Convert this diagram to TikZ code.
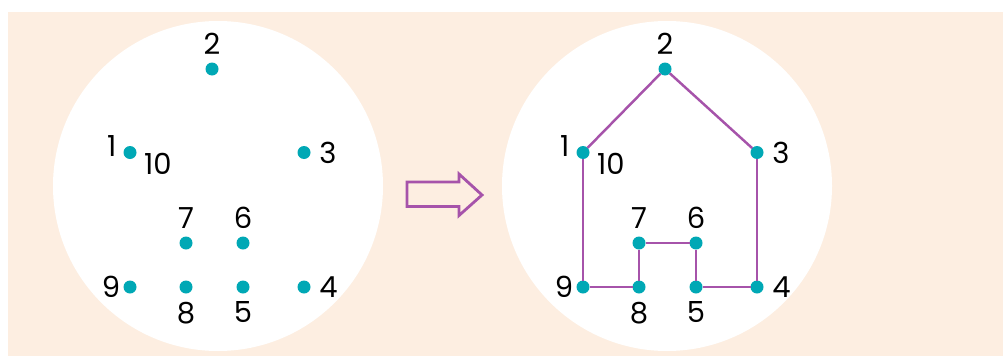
\documentclass[tikz,border=0pt]{standalone}
\usepackage{fontspec}
\setmainfont{Poppins}
\usepackage{xcolor}
\definecolor{durazno}{RGB}{253,238,225}
\definecolor{turquesa}{RGB}{0,168,181}
\definecolor{morado}{RGB}{166,83,170}
\usepackage{tikz}
\usetikzlibrary{calc,positioning}
\tikzstyle{vertex}=[circle, fill=turquesa, minimum size=0.26cm,
                    inner sep=0pt, outer sep=0pt]
\tikzstyle{pedge} =[morado, line width=1.4pt]
\tikzstyle{flecha}=[morado, line width=1.6pt, line join=miter]
\tikzset{every label/.style={inner sep=0pt, font=\fontsize{16.5}{18}\selectfont},
         label distance=0.16cm}

\begin{document}
\begin{tikzpicture}
    \useasboundingbox (0,0) rectangle (20.06,7.12);
    \fill[durazno] (0.16,0) rectangle (20.06,6.88);
    \fill[white] (4.36,3.40) circle (3.30cm);
    \fill[white] (13.34,3.40) circle (3.30cm);

    % flecha
    \draw[flecha] (8.14,3.48) -- (9.18,3.48) -- (9.18,3.64) -- (9.64,3.22)
        -- (9.18,2.81) -- (9.18,2.99) -- (8.14,2.99) -- cycle;

        \begin{scope}
            \draw (2.60,4.07) node (a1) [vertex,label={[label distance=0.14cm,yshift=-0.12cm]172:1},label={[label distance=0.15cm,yshift=0.06cm]-12:10}] {};
            \draw (4.24,5.74) node (a2) [vertex,label=90:2] {};
            \draw (6.08,4.07) node (a3) [vertex,label={[label distance=0.17cm]0:3}] {};
            \draw (6.08,1.38) node (a4) [vertex,label={[label distance=0.17cm]0:4}] {};
            \draw (4.86,1.38) node (a5) [vertex,label=270:5] {};
            \draw (4.86,2.26) node (a6) [vertex,label=90:6] {};
            \draw (3.72,2.26) node (a7) [vertex,label=90:7] {};
            \draw (3.72,1.38) node (a8) [vertex,label=270:8] {};
            \draw (2.60,1.38) node (a9) [vertex,label={[label distance=0.06cm]180:9}] {};
        \end{scope}

        \begin{scope}[xshift=9.06cm]
            \draw (2.60,4.07) node (b1) [vertex,label={[label distance=0.14cm,yshift=-0.12cm]172:1},label={[label distance=0.15cm,yshift=0.06cm]-12:10}] {};
            \draw (4.24,5.74) node (b2) [vertex,label=90:2] {};
            \draw (6.08,4.07) node (b3) [vertex,label={[label distance=0.17cm]0:3}] {};
            \draw (6.08,1.38) node (b4) [vertex,label={[label distance=0.17cm]0:4}] {};
            \draw (4.86,1.38) node (b5) [vertex,label=270:5] {};
            \draw (4.86,2.26) node (b6) [vertex,label=90:6] {};
            \draw (3.72,2.26) node (b7) [vertex,label=90:7] {};
            \draw (3.72,1.38) node (b8) [vertex,label=270:8] {};
            \draw (2.60,1.38) node (b9) [vertex,label={[label distance=0.06cm]180:9}] {};

            \foreach \i/\j in{1/2,2/3,3/4,4/5,5/6,6/7,7/8,8/9,9/1}
                \draw [pedge] (b\i) to (b\j);
        \end{scope}

\end{tikzpicture}
\end{document}
